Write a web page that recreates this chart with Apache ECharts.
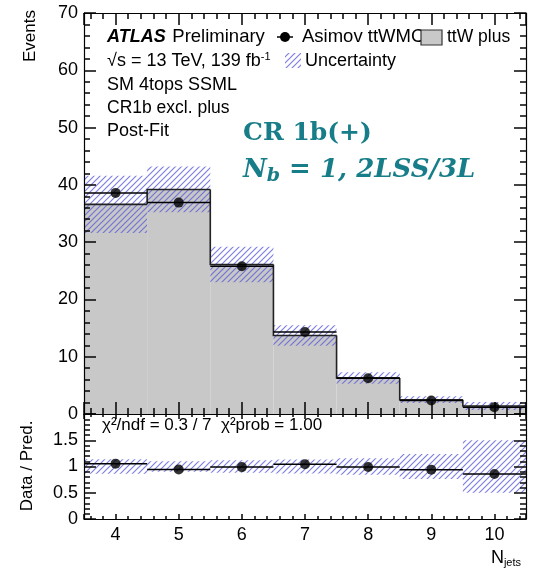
<!DOCTYPE html>
<html>
<head>
<meta charset="utf-8">
<script src="https://cdn.jsdelivr.net/npm/echarts@6/dist/echarts.min.js"></script>
<style>
  html, body { margin: 0; padding: 0; background: #fff; }
  #chart { width: 533px; height: 573px; }
</style>
</head>
<body>
<div id="chart"></div>
<script>
// N_jets bins (bin centres, unit width)
const bins = [4, 5, 6, 7, 8, 9, 10];
// Post-fit ttW plus prediction per bin
const predicted = [36.6, 39.2, 26.1, 13.7, 6.3, 2.5, 1.4];
// Absolute uncertainty on the prediction
const uncertainty = [5.0, 4.0, 3.1, 1.8, 1.0, 0.6, 0.7];
// Asimov ttWMC pseudo-data
const asimov = [38.6, 36.9, 25.8, 14.3, 6.25, 2.35, 1.2];
// Tick labels of the ratio panel
const ratioTicks = [0, 0.5, 1, 1.5];

const FONT = 'Liberation Sans, Arial, Helvetica, sans-serif';
const TEAL = '#167d89';

function makeHatch() {
  const c = document.createElement('canvas');
  c.width = 6; c.height = 6;
  const g = c.getContext('2d');
  g.strokeStyle = 'rgba(95,95,215,0.8)';
  g.lineWidth = 1.2;
  g.beginPath();
  g.moveTo(0, 6); g.lineTo(6, 0);
  g.moveTo(-1, 1); g.lineTo(1, -1);
  g.moveTo(5, 7); g.lineTo(7, 5);
  g.stroke();
  return c;
}
const hatch = { image: makeHatch(), repeat: 'repeat' };

const ratio = asimov.map((v, i) => v / predicted[i]);
const relUnc = uncertainty.map((u, i) => u / predicted[i]);

const predData = bins.map((b, i) => [b, predicted[i]]);
const bandData = bins.map((b, i) => [b, predicted[i] - uncertainty[i], predicted[i] + uncertainty[i]]);
const dataPts = bins.map((b, i) => [b, asimov[i]]);
const ratioPts = bins.map((b, i) => [b, ratio[i]]);
const ratioBand = bins.map((b, i) => [b, 1 - relUnc[i], 1 + relUnc[i]]);

function rectBetween(api, x, lo, hi) {
  const p0 = api.coord([x - 0.5, hi]);
  const p1 = api.coord([x + 0.5, lo]);
  return { x: p0[0], y: p0[1], width: p1[0] - p0[0], height: p1[1] - p0[1] };
}

function xAxis(grid, pos, showLabel, major, minor, tickColor) {
  return {
    gridIndex: grid, type: 'value', position: pos, z: 10,
    min: 3.5, max: 10.5, splitNumber: 7,
    axisLine: { show: true, onZero: false, lineStyle: { color: '#000', width: 1.2 } },
    axisTick: { show: true, inside: true, length: major, lineStyle: { color: tickColor, width: 1.5 } },
    minorTick: { show: true, splitNumber: 5, length: minor, lineStyle: { color: tickColor, width: 1.5 } },
    splitLine: { show: false },
    axisLabel: {
      show: showLabel, color: '#000', fontSize: 18, fontFamily: FONT, margin: 7,
      formatter: v => (Number.isInteger(v) ? String(v) : '')
    }
  };
}

function yAxis(grid, pos, showLabel, min, max, interval, fmt, tickColor) {
  const o = {
    gridIndex: grid, type: 'value', position: pos, z: 10,
    min: min, max: max, interval: interval,
    axisLine: { show: true, onZero: false, lineStyle: { color: '#000', width: 1.2 } },
    axisTick: { show: true, inside: true, length: 12, lineStyle: { color: tickColor, width: 1.5 } },
    minorTick: { show: true, splitNumber: 5, length: 6, lineStyle: { color: tickColor, width: 1.5 } },
    splitLine: { show: false },
    axisLabel: { show: showLabel, color: '#000', fontSize: 18, fontFamily: FONT, margin: 6 }
  };
  if (fmt) o.axisLabel.formatter = fmt;
  return o;
}

const option = {
  animation: false,
  grid: [
    { left: 84, right: 7, top: 13, height: 401, outerBoundsMode: 'none' },
    { left: 84, right: 7, top: 414, height: 105, outerBoundsMode: 'none' }
  ],
  xAxis: [
    xAxis(0, 'bottom', false, 12, 6, '#010101'),
    xAxis(0, 'top', false, 12, 6, '#020202'),
    xAxis(1, 'bottom', true, 5, 3, '#030303'),
    xAxis(1, 'top', false, 5, 3, '#040404')
  ],
  yAxis: [
    yAxis(0, 'left', true, 0, 70, 10, null, '#050505'),
    yAxis(0, 'right', false, 0, 70, 10, null, '#060606'),
    yAxis(1, 'left', true, 0, 2, 0.5, v => (ratioTicks.indexOf(v) >= 0 ? String(v) : ''), '#070707'),
    yAxis(1, 'right', false, 0, 2, 0.5, null, '#080808')
  ],
  series: [
    // grey prediction histogram
    {
      type: 'custom', xAxisIndex: 0, yAxisIndex: 0, data: predData, clip: true, z: 1,
      encode: { x: 0, y: 1 },
      renderItem: (params, api) => ({
        type: 'rect',
        shape: rectBetween(api, api.value(0), 0, api.value(1)),
        style: { fill: '#c8c8c8' }
      })
    },
    // hatched uncertainty band
    {
      type: 'custom', xAxisIndex: 0, yAxisIndex: 0, data: bandData, clip: true, z: 2,
      encode: { x: 0, y: [1, 2] },
      renderItem: (params, api) => ({
        type: 'rect',
        shape: rectBetween(api, api.value(0), api.value(1), api.value(2)),
        style: { fill: hatch }
      })
    },
    // histogram outline
    {
      type: 'custom', xAxisIndex: 0, yAxisIndex: 0, data: predData, clip: true, z: 3,
      encode: { x: 0, y: 1 },
      renderItem: (params, api) => {
        const i = params.dataIndex;
        const x = api.value(0), v = api.value(1);
        const prev = i > 0 ? predicted[i - 1] : 0;
        const pts = [api.coord([x - 0.5, prev]), api.coord([x - 0.5, v]), api.coord([x + 0.5, v])];
        if (i === bins.length - 1) pts.push(api.coord([x + 0.5, 0]));
        return {
          type: 'polyline',
          shape: { points: pts },
          style: { stroke: '#222', lineWidth: 1.6, fill: 'none' }
        };
      }
    },
    // bin-width bars of the pseudo-data
    {
      type: 'custom', xAxisIndex: 0, yAxisIndex: 0, data: dataPts, clip: true, z: 4,
      encode: { x: 0, y: 1 },
      renderItem: (params, api) => {
        const a = api.coord([api.value(0) - 0.5, api.value(1)]);
        const b = api.coord([api.value(0) + 0.5, api.value(1)]);
        return { type: 'line', shape: { x1: a[0], y1: a[1], x2: b[0], y2: b[1] },
                 style: { stroke: '#000', lineWidth: 1.5 } };
      }
    },
    {
      type: 'scatter', xAxisIndex: 0, yAxisIndex: 0, data: dataPts, z: 5,
      symbol: 'circle', symbolSize: 10, itemStyle: { color: '#000' }
    },
    // ratio panel
    {
      type: 'custom', xAxisIndex: 2, yAxisIndex: 2, data: ratioBand, clip: true, z: 2,
      encode: { x: 0, y: [1, 2] },
      renderItem: (params, api) => ({
        type: 'rect',
        shape: rectBetween(api, api.value(0), api.value(1), api.value(2)),
        style: { fill: hatch }
      })
    },
    {
      type: 'custom', xAxisIndex: 2, yAxisIndex: 2, data: ratioPts, clip: true, z: 4,
      encode: { x: 0, y: 1 },
      renderItem: (params, api) => {
        const a = api.coord([api.value(0) - 0.5, api.value(1)]);
        const b = api.coord([api.value(0) + 0.5, api.value(1)]);
        return { type: 'line', shape: { x1: a[0], y1: a[1], x2: b[0], y2: b[1] },
                 style: { stroke: '#000', lineWidth: 1.5 } };
      }
    },
    {
      type: 'scatter', xAxisIndex: 2, yAxisIndex: 2, data: ratioPts, z: 5,
      symbol: 'circle', symbolSize: 10, itemStyle: { color: '#000' }
    }
  ],
  graphic: [
    // axis titles
    { type: 'text', x: 30, y: 10, rotation: Math.PI / 2, z: 20,
      style: { text: 'Events', font: '17px ' + FONT, fill: '#000', align: 'right', verticalAlign: 'middle' } },
    { type: 'text', x: 27, y: 466, rotation: Math.PI / 2, z: 20,
      style: { text: 'Data / Pred.', font: '17px ' + FONT, fill: '#000', align: 'center', verticalAlign: 'middle' } },
    { type: 'text', x: 521, y: 558, z: 20,
      style: { text: '{n|N}{s|jets}', align: 'right', verticalAlign: 'middle',
        rich: { n: { fontSize: 18, fontFamily: FONT, fill: '#000' },
                s: { fontSize: 11, fontFamily: FONT, fill: '#000', padding: [10, 0, 0, 0] } } } },
    // ATLAS label block
    { type: 'text', x: 107, y: 37, z: 20,
      style: { text: '{a|ATLAS}  {p|Preliminary}', verticalAlign: 'middle',
        rich: { a: { fontSize: 18, fontFamily: FONT, fontWeight: 'bold', fontStyle: 'italic', fill: '#000' },
                p: { fontSize: 18.5, fontFamily: FONT, fill: '#000' } } } },
    { type: 'text', x: 107, y: 61, z: 20,
      style: { text: '{t|√s = 13 TeV, 139 fb}{s|-1}', verticalAlign: 'middle',
        rich: { t: { fontSize: 18, fontFamily: FONT, fill: '#000' },
                s: { fontSize: 11, fontFamily: FONT, fill: '#000', padding: [0, 0, 9, 0] } } } },
    { type: 'text', x: 107, y: 85, z: 20, style: { text: 'SM 4tops SSML', font: '18px ' + FONT, fill: '#000', verticalAlign: 'middle' } },
    { type: 'text', x: 107, y: 108, z: 20, style: { text: 'CR1b excl. plus', font: '17.5px ' + FONT, fill: '#000', verticalAlign: 'middle' } },
    { type: 'text', x: 107, y: 131, z: 20, style: { text: 'Post-Fit', font: '18px ' + FONT, fill: '#000', verticalAlign: 'middle' } },
    // legend
    { type: 'line', z: 20, shape: { x1: 277, y1: 37, x2: 293, y2: 37 }, style: { stroke: '#000', lineWidth: 1.5 } },
    { type: 'circle', z: 20, shape: { cx: 285, cy: 37, r: 5 }, style: { fill: '#000' } },
    { type: 'text', x: 302, y: 37, z: 20, style: { text: 'Asimov ttWMC', font: '18.5px ' + FONT, fill: '#000', verticalAlign: 'middle' } },
    { type: 'rect', z: 21, shape: { x: 421, y: 30, width: 21, height: 15 }, style: { fill: '#c8c8c8', stroke: '#333', lineWidth: 1.2 } },
    { type: 'text', x: 447, y: 37, z: 21, style: { text: 'ttW plus', font: '17.5px ' + FONT, fill: '#000', verticalAlign: 'middle' } },
    { type: 'rect', z: 20, shape: { x: 285, y: 53, width: 16, height: 15 }, style: { fill: hatch } },
    { type: 'text', x: 305, y: 61, z: 20, style: { text: 'Uncertainty', font: '18px ' + FONT, fill: '#000', verticalAlign: 'middle' } },
    // region annotation
    { type: 'text', x: 243, y: 133, z: 20,
      style: { text: 'CR 1b(+)', font: 'bold 25px DejaVu Serif', fill: TEAL, verticalAlign: 'middle' } },
    { type: 'text', x: 243, y: 170, z: 20,
      style: { text: '{n|N}{b|b}{n| = 1, 2LSS/3L}', verticalAlign: 'middle',
        rich: { n: { fontSize: 26, fontFamily: 'DejaVu Serif', fontWeight: 'bold', fontStyle: 'italic', fill: TEAL },
                b: { fontSize: 19, fontFamily: 'DejaVu Serif', fontWeight: 'bold', fontStyle: 'italic', fill: TEAL, padding: [12, 0, 0, 0] } } } },
    // fit quality in the ratio panel
    { type: 'text', x: 102, y: 425, z: 20,
      style: { text: 'χ²/ndf = 0.3 / 7  χ²prob = 1.00', font: '17px ' + FONT, fill: '#000', verticalAlign: 'middle' } }
  ]
};

const chart = echarts.init(document.getElementById('chart'));
chart.setOption(option);
</script>
</body>
</html>
